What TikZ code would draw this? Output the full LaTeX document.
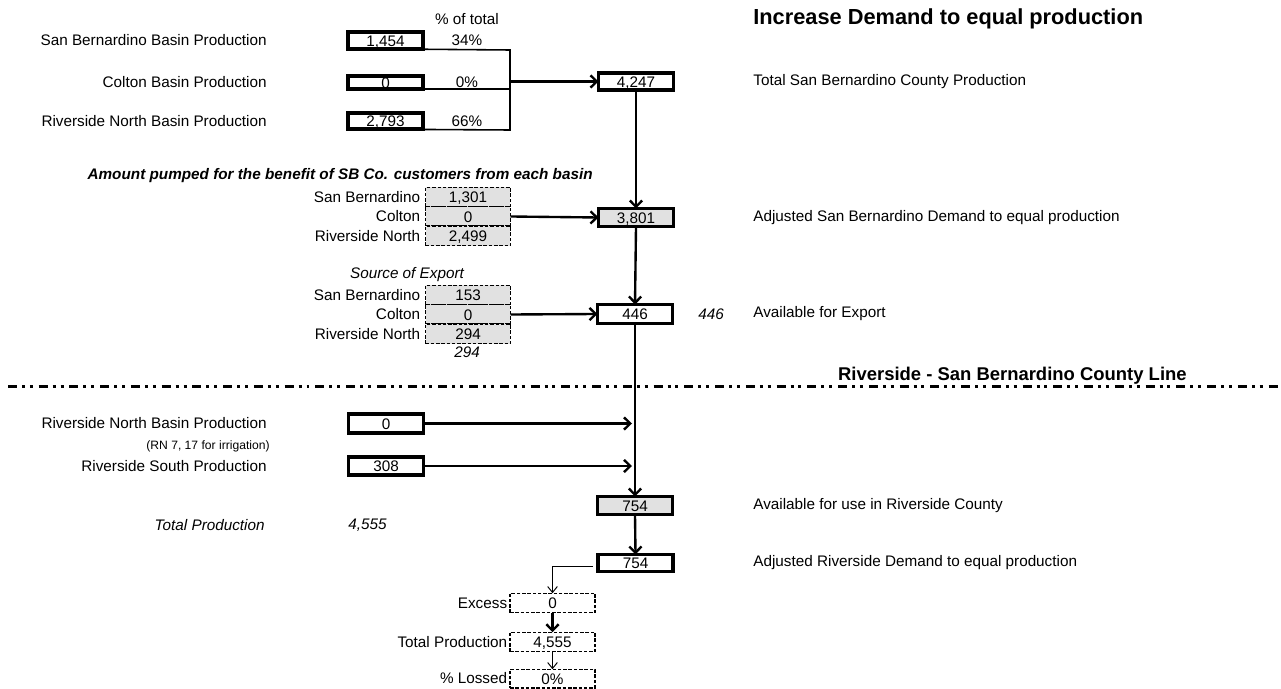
\documentclass[tikz,border=0pt]{standalone}
\usepackage{fontspec}
\setmainfont{Liberation Sans}
\usepackage{xcolor}
\usepackage{tikz}
\usetikzlibrary{arrows.meta, positioning, calc}
\definecolor{cellgray}{RGB}{225,225,225}
\newcommand\bodyfont{\fontsize{8.7}{10.4}\selectfont}
\newcommand\notefont{\fontsize{6.9}{8.3}\selectfont}
\newcommand\titlefont{\fontsize{12.4}{14.8}\selectfont\bfseries}
\newcommand\countyfont{\fontsize{10.5}{12.6}\selectfont\bfseries}

\begin{document}
\begin{tikzpicture}[x=0.02cm, y=-0.02cm,
    lbl/.style={inner sep=0pt, font=\bodyfont},
    thickbox/.style={draw, line width=2.1pt, inner sep=0pt, outer sep=0pt,
                     text height=6.6pt, text depth=0.2pt,
                     minimum width=1.5cm, minimum height=0.35cm, font=\bodyfont},
    cell/.style={draw, line width=0.85pt, dash pattern=on 2pt off 1pt,
                 fill=cellgray, inner sep=0pt, outer sep=0pt,
                 text height=6.6pt, text depth=0.2pt,
                 minimum width=1.7cm, minimum height=0.39cm, font=\bodyfont},
    flow/.style={line width=1.35pt,
                 -{Straight Barb[length=3.6pt, width=7pt, line width=1.35pt]}},
    thinflow/.style={line width=0.55pt,
                 -{Straight Barb[length=3.4pt, width=5.5pt, line width=0.55pt]}},
    countyline/.style={line width=1.8pt,
                 dash pattern=on 5.1pt off 2.8pt on 1.7pt off 2.8pt on 1.7pt off 3.4pt}]
    \useasboundingbox (0,0) rectangle (1281,689);

    % San Bernardino side
    \node[lbl, font=\titlefont, anchor=base west] (title) at (753,25)
        {Increase Demand to equal production};
    \node[lbl] (pcthead) at (467,19) {\% of total};

    \node[thickbox] (sbp) at (385.5,40.5) {1,454};
    \node[thickbox, minimum height=0.27cm] (cbp) at (385.5,82.5) {0};
    \node[thickbox, minimum height=0.32cm] (rnp) at (385.5,121) {2,793};
    \node[lbl, anchor=east] (sbpl) at (267,40.5) {San Bernardino Basin Production};
    \node[lbl, anchor=east] (cbpl) at (267,82.5) {Colton Basin Production};
    \node[lbl, anchor=east] (rnpl) at (267,121) {Riverside North Basin Production};
    \node[lbl] (sbpct) at (467,40.5) {34\%};
    \node[lbl] (cbpct) at (467,82.5) {0\%};
    \node[lbl] (rnpct) at (467,121) {66\%};

    \node[thickbox] (sbtot) at (636,81.5) {4,247};
    \node[lbl, anchor=west] (sbtotl) at (753,81.5) {Total San Bernardino County Production};

    \coordinate (brktop) at (510,50);
    \coordinate (brkbot) at (510,130);
    \draw[line width=0.9pt] (sbp.south east) -- (brktop) -- (brkbot) -- (rnp.south west);
    \draw[line width=0.9pt] (cbp.south east) -- (brktop |- cbp.south);
    \draw[flow] (brktop |- sbtot.west) -- (sbtot.west);

    % pumped for SB Co.
    \node[lbl, font=\bodyfont\bfseries\itshape, anchor=east] (pumphead) at (593,176)
        {Amount pumped for the benefit of SB Co. customers from each basin};
    \node[cell] (pc1) at (468,197) {1,301};
    \node[cell, below=0pt of pc1] (pc2) {0};
    \node[cell, below=0pt of pc2] (pc3) {2,499};
    \node[lbl, left=0.1cm of pc1] (pl1) {San Bernardino};
    \node[lbl, left=0.1cm of pc2] (pl2) {Colton};
    \node[lbl, left=0.1cm of pc3] (pl3) {Riverside North};

    \node[thickbox, fill=cellgray, minimum height=0.36cm] (sbdem) at (636,217.5) {3,801};
    \node[lbl, anchor=west] (sbdeml) at (753,217.5)
        {Adjusted San Bernardino Demand to equal production};
    \draw[flow] (pc2.east) -- (sbdem.west);
    \draw[flow] (sbtot.south) -- (sbdem.north);

    % export
    \node[lbl, font=\bodyfont\itshape] (srchead) at (407,275) {Source of Export};
    \node[cell] (ec1) at (468,295) {153};
    \node[cell, below=0pt of ec1] (ec2) {0};
    \node[cell, below=0pt of ec2] (ec3) {294};
    \node[lbl, left=0.1cm of ec1] (el1) {San Bernardino};
    \node[lbl, left=0.1cm of ec2] (el2) {Colton};
    \node[lbl, left=0.1cm of ec3] (el3) {Riverside North};
    \node[lbl, font=\bodyfont\itshape] (ectot) at (467,352) {294};

    \node[thickbox, minimum height=0.38cm] (export) at (635,314) {446};
    \node[lbl, font=\bodyfont\itshape] (expval) at (711,314) {446};
    \node[lbl, anchor=west] (exportl) at (753,314) {Available for Export};
    \draw[flow] (ec2.east) -- (export.west);
    \draw[flow] (sbdem.south) -- (export.north);

    % county line
    \draw[countyline] (8,386.5) -- (1281,386.5);
    \node[lbl, font=\countyfont, anchor=base east] (countyl) at (1187,380)
        {Riverside - San Bernardino County Line};

    % Riverside side
    \node[thickbox, minimum height=0.38cm] (rnbp) at (386,423.5) {0};
    \node[thickbox, minimum height=0.36cm] (rsp) at (386,466) {308};
    \node[lbl, anchor=east] (rnbpl) at (267,423.5) {Riverside North Basin Production};
    \node[lbl, font=\notefont, anchor=east] (rnnote) at (270,446) {(RN 7, 17 for irrigation)};
    \node[lbl, anchor=east] (rspl) at (267,466) {Riverside South Production};
    \node[lbl, font=\bodyfont\itshape, anchor=east] (totl) at (265,525) {Total Production};
    \node[lbl, font=\bodyfont\itshape, anchor=west] (totv) at (348,525) {4,555};

    \node[thickbox, fill=cellgray, minimum height=0.36cm] (rvuse) at (635,505.5) {754};
    \node[lbl, anchor=west] (rvusel) at (753,505.5) {Available for use in Riverside County};
    \node[thickbox, minimum height=0.34cm] (rvdem) at (635.5,563) {754};
    \node[lbl, anchor=west] (rvdeml) at (753,563) {Adjusted Riverside Demand to equal production};

    \coordinate (rnin) at (632,423.5);
    \coordinate (rsin) at (632,466);
    \draw[flow] (export.south) -- (rvuse.north);
    \draw[flow] (rnbp.east) -- (rnin);
    \draw[flow] (rsp.east) -- (rsin);
    \draw[flow] (rvuse.south) -- (rvdem.north);

    % excess and loss
    \node[cell, fill=white] (excess) at (552.5,603) {0};
    \node[cell, fill=white] (totprod) at (552.5,642) {4,555};
    \node[cell, fill=white, minimum height=0.37cm] (lossed) at (552.5,678.5) {0\%};
    \node[lbl, left=0.05cm of excess] (excessl) {Excess};
    \node[lbl, left=0.05cm of totprod] (totprodl) {Total Production};
    \node[lbl, left=0.05cm of lossed] (lossedl) {\% Lossed};

    \draw[thinflow] ([xshift=-0.1cm, yshift=-0.06cm]rvdem.west) -| (excess.north);
    \draw[flow] (excess.south) -- (totprod.north);
    \draw[thinflow] (totprod.south) -- (lossed.north);
\end{tikzpicture}
\end{document}
